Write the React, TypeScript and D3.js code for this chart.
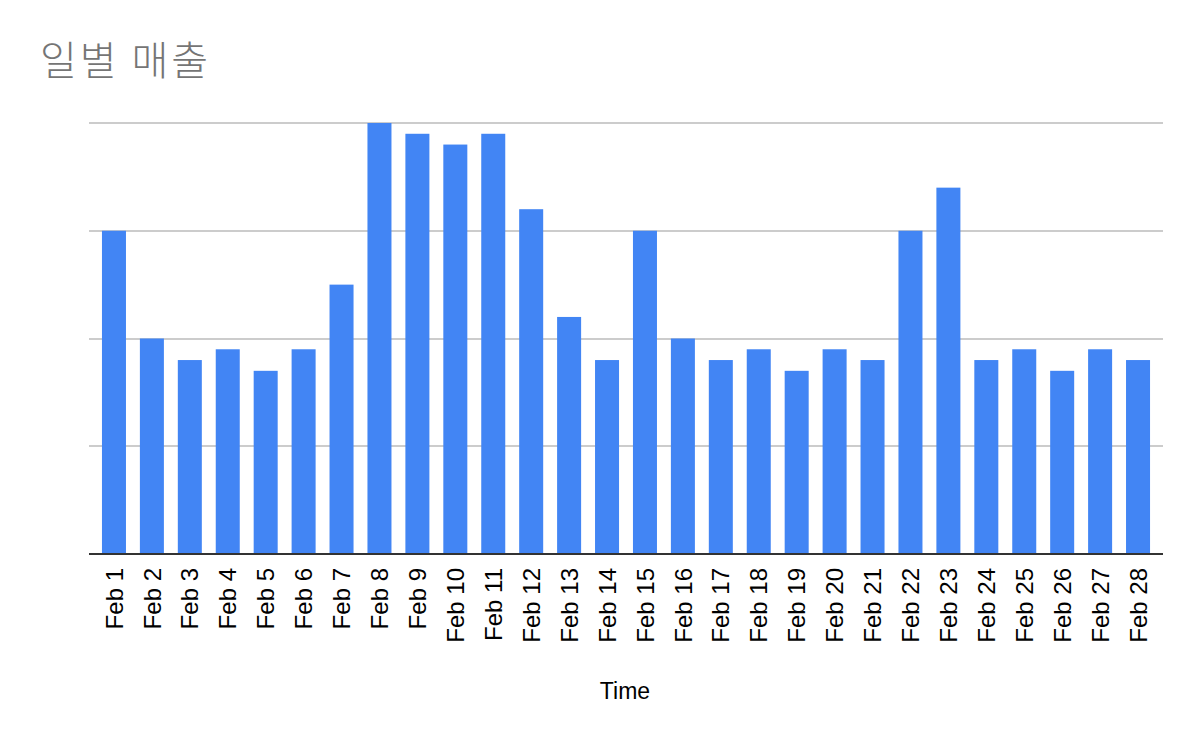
import React from "react";
import * as d3 from "d3";

const categories = ["Feb 1","Feb 2","Feb 3","Feb 4","Feb 5","Feb 6","Feb 7","Feb 8","Feb 9","Feb 10","Feb 11","Feb 12","Feb 13","Feb 14","Feb 15","Feb 16","Feb 17","Feb 18","Feb 19","Feb 20","Feb 21","Feb 22","Feb 23","Feb 24","Feb 25","Feb 26","Feb 27","Feb 28"];
const sales = [3.0,2.0,1.8,1.9,1.7,1.9,2.5,4.0,3.9,3.8,3.9,3.2,2.2,1.8,3.0,2.0,1.8,1.9,1.7,1.9,1.8,3.0,3.4,1.8,1.9,1.7,1.9,1.8];
const gridTicks = [1, 2, 3, 4];
const title = "일별 매출";
const xTitle = "Time";

export default function App() {
  const W = 1200, H = 742;
  const x = d3.scaleBand<string>().domain(categories).range([95, 1157]).paddingInner(0.367).paddingOuter(0.1835);
  const y = d3.scaleLinear().domain([0, 4]).range([554, 123]);
  return (
    <svg width={W} height={H} style={{ position: "absolute", left: 0, top: 0, background: "#fff" }}>
      <text x={40} y={75} fontFamily="'Noto Sans CJK KR', 'Noto Sans'" fontSize={40} fontWeight={300} letterSpacing={3} fill="#757575">{title}</text>
      {gridTicks.map((t) => (
        <line key={t} x1={89} x2={1163} y1={Math.round(y(t))} y2={Math.round(y(t))} stroke="#cccccc" strokeWidth={2} />
      ))}
      {categories.map((c, i) => (
        <rect key={c} x={x(c)} y={y(sales[i])} width={x.bandwidth()} height={y(0) - y(sales[i])} fill="#4285f4" />
      ))}
      <line x1={89} x2={1163} y1={554} y2={554} stroke="#333333" strokeWidth={2} />
      {categories.map((c) => (
        <text key={c} transform={`translate(${(x(c) as number) + x.bandwidth() / 2},${568}) rotate(-90)`} textAnchor="end" dy="0.36em" fontFamily="'Liberation Sans', Arial" fontSize={24} fill="#000">{c}</text>
      ))}
      <text x={625} y={699} textAnchor="middle" fontFamily="'Liberation Sans', Arial" fontSize={23} fill="#000">{xTitle}</text>
    </svg>
  );
}
